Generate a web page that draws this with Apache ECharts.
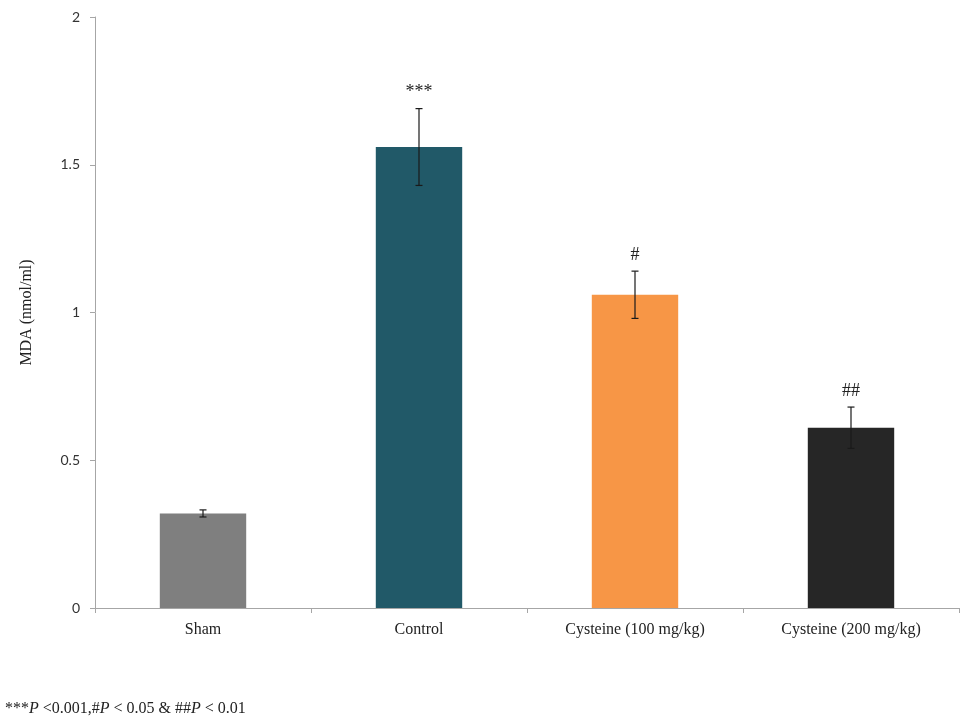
<!DOCTYPE html>
<html>
<head>
<meta charset="utf-8">
<script src="https://cdn.jsdelivr.net/npm/echarts@6/dist/echarts.min.js"></script>
<style>
  html, body { margin: 0; padding: 0; background: #fff; }
  #chart { width: 960px; height: 722px; }
</style>
</head>
<body>
<div id="chart"></div>
<script>
// Group names along the x axis
const categories = ['Sham', 'Control', 'Cysteine (100 mg/kg)', 'Cysteine (200 mg/kg)'];
// Mean MDA level per group (nmol/ml)
const means = [0.32, 1.56, 1.06, 0.61];
// Error (± half-width) per group
const errors = [0.012, 0.13, 0.08, 0.07];
// Significance marks above each group
const marks = ['', '***', '#', '##'];
// Bar fill per group
const barColors = ['#7f7f7f', '#215968', '#f79646', '#262626'];
// Y tick values
const yTicks = [0, 0.5, 1, 1.5, 2];

const serif = '"Liberation Serif", "Times New Roman", serif';
const sans = 'Lato, "Open Sans", sans-serif';

const chart = echarts.init(document.getElementById('chart'));

chart.setOption({
  animation: false,
  grid: { left: 95, right: 1, top: 17, bottom: 114, containLabel: false },
  xAxis: {
    type: 'category',
    data: categories,
    axisLine: { lineStyle: { color: '#a6a6a6', width: 1 } },
    axisTick: { show: true, length: 5, lineStyle: { color: '#a6a6a6' } },
    axisLabel: { color: '#222', fontFamily: serif, fontSize: 16, margin: 14 }
  },
  yAxis: {
    type: 'value',
    min: yTicks[0],
    max: yTicks[yTicks.length - 1],
    interval: 0.5,
    name: 'MDA (nmol/ml)',
    nameLocation: 'middle',
    nameGap: 60,
    nameRotate: 90,
    nameTextStyle: { color: '#222', fontFamily: serif, fontSize: 16 },
    axisLine: { show: true, lineStyle: { color: '#a6a6a6', width: 1 } },
    axisTick: { show: true, length: 5, lineStyle: { color: '#a6a6a6' } },
    splitLine: { show: false },
    axisLabel: { color: '#333', fontFamily: sans, fontSize: 14, margin: 15,
      formatter: v => String(v) }
  },
  series: [
    {
      type: 'bar',
      barWidth: '40%',
      data: means.map((v, i) => ({ value: v, itemStyle: { color: barColors[i] } }))
    },
    {
      type: 'custom',
      data: means.map((v, i) => [i, v, errors[i]]),
      z: 10,
      renderItem: function (params, api) {
        const i = api.value(0);
        const m = api.value(1);
        const e = api.value(2);
        const hi = api.coord([i, m + e]);
        const lo = api.coord([i, m - e]);
        const cap = 3.5;
        const style = { stroke: '#1a1a1a', lineWidth: 1.2 };
        const children = [
          { type: 'line', shape: { x1: hi[0], y1: hi[1], x2: lo[0], y2: lo[1] }, style: style },
          { type: 'line', shape: { x1: hi[0] - cap, y1: hi[1], x2: hi[0] + cap, y2: hi[1] }, style: style },
          { type: 'line', shape: { x1: lo[0] - cap, y1: lo[1], x2: lo[0] + cap, y2: lo[1] }, style: style }
        ];
        const txt = marks[params.dataIndex];
        if (txt) {
          children.push({
            type: 'text',
            x: hi[0], y: hi[1] - 7,
            style: {
              text: txt, fill: '#222', font: '18px ' + serif,
              textAlign: 'center', textVerticalAlign: 'bottom'
            }
          });
        }
        return { type: 'group', children: children };
      }
    }
  ],
  graphic: [
    {
      type: 'text',
      left: 5,
      top: 701,
      style: {
        text: '***{i|P} <0.001,#{i|P} < 0.05 & ##{i|P} < 0.01',
        fill: '#222',
        font: '16px ' + serif,
        rich: { i: { fontStyle: 'italic', fontFamily: serif, fontSize: 16, fill: '#222' } }
      }
    }
  ]
});
</script>
</body>
</html>
